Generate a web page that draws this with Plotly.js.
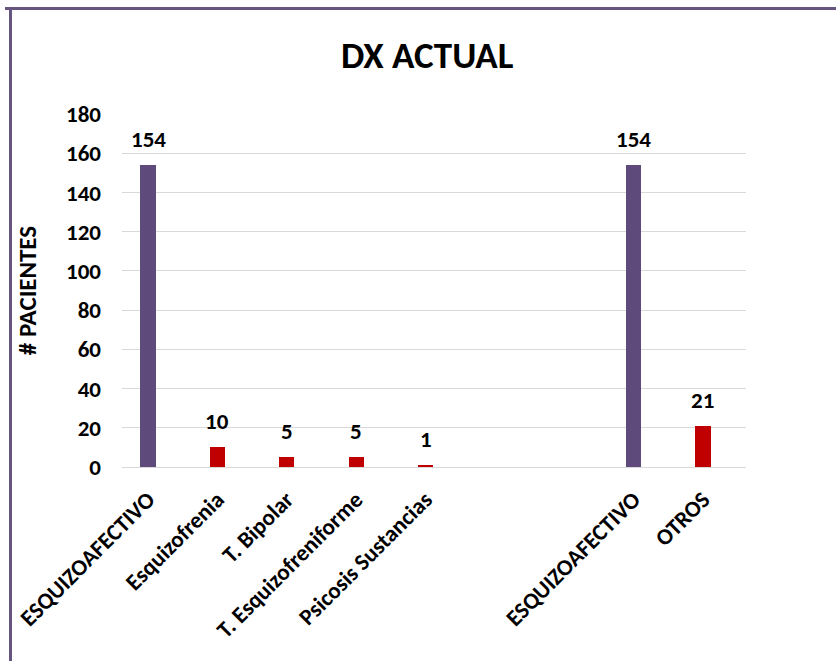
<!DOCTYPE html>
<html>
<head>
<meta charset="utf-8">
<script src="https://cdn.plot.ly/plotly-3.0.1.min.js"></script>
<style>
  html, body { margin: 0; padding: 0; background: #ffffff; }
  #chart { width: 836px; height: 661px; }
</style>
</head>
<body>
<div id="chart"></div>
<script>
// ---- data ----
const categories = ["ESQUIZOAFECTIVO", "Esquizofrenia", "T. Bipolar", "T. Esquizofreniforme",
                    "Psicosis Sustancias", "", "", "ESQUIZOAFECTIVO", "OTROS"];
const pacientes  = [154, 10, 5, 5, 1, null, null, 154, 21];
const grupo      = ["total", "detalle", "detalle", "detalle", "detalle", "", "", "total", "detalle"];
const chartTitle = "DX ACTUAL";
const yTitle     = "# PACIENTES";
const yTicks     = [0, 20, 40, 60, 80, 100, 120, 140, 160, 180];

// ---- styling ----
const FONT = "Carlito, Lato, 'Open Sans', sans-serif";
const colorFor = { total: "#5f4b7b", detalle: "#c00000" };
const positions = categories.map((_, i) => i);

const barColors = grupo.map(g => colorFor[g] || "rgba(0,0,0,0)");

const trace = {
  type: "bar",
  x: positions,
  y: pacientes,
  width: 0.22,
  marker: { color: barColors, line: { width: 0 } },
  hoverinfo: "x+y",
  showlegend: false
};

const annotations = positions
  .filter(i => pacientes[i] !== null)
  .map(i => ({
    x: positions[i], y: pacientes[i], xref: "x", yref: "y",
    text: "<b>" + pacientes[i] + "</b>", showarrow: false,
    yanchor: "bottom", yshift: 10,
    font: { family: FONT, size: 23, color: "#000000" }
  }));

// plot area: l=122, w=624, t=114, h=353
const px = v => (v - 122) / 624;
const py = v => (467 - v) / 353;
const BORDER = "#65557f";

const layout = {
  width: 836, height: 661,
  margin: { l: 122, r: 90, t: 114, b: 194 },
  paper_bgcolor: "#ffffff", plot_bgcolor: "#ffffff",
  font: { family: FONT, color: "#000000" },
  title: {
    text: "<b>" + chartTitle + "</b>",
    x: 0.511, xref: "container", xanchor: "center",
    y: 1 - 55 / 661, yref: "container", yanchor: "middle",
    font: { family: FONT, size: 37, color: "#000000" }
  },
  xaxis: {
    range: [-0.375, 8.62],
    tickmode: "array",
    tickvals: positions,
    ticktext: categories.map(c => c ? "<b>" + c + "</b>" : ""),
    tickangle: -45,
    tickfont: { family: FONT, size: 23, color: "#000000" },
    ticklabelstandoff: 9,
    showgrid: false, zeroline: false,
    showline: true, linecolor: "#d9d9d9", linewidth: 1,
    ticks: "", fixedrange: true
  },
  yaxis: {
    range: [0, 180],
    tickmode: "array",
    tickvals: yTicks,
    ticktext: yTicks.map(v => "<b>" + v + "</b>"),
    tickfont: { family: FONT, size: 23, color: "#000000" },
    ticklabelstandoff: 20,
    showgrid: true, gridcolor: "#d9d9d9", gridwidth: 1,
    zeroline: false, showline: false, ticks: "",
    automargin: false,
    title: {
      text: "<b>" + yTitle + "</b>",
      font: { family: FONT, size: 25, color: "#000000" },
      standoff: 22
    },
    fixedrange: true
  },
  annotations: annotations,
  shapes: [
    { type: "line", xref: "paper", yref: "paper",
      x0: px(5), x1: px(836), y0: py(8.5), y1: py(8.5),
      line: { color: BORDER, width: 3 } },
    { type: "line", xref: "paper", yref: "paper",
      x0: px(10.5), x1: px(10.5), y0: py(7), y1: py(661),
      line: { color: BORDER, width: 3 } }
  ],
  bargap: 0
};

Plotly.newPlot("chart", [trace], layout, { displayModeBar: false, staticPlot: true });
</script>
</body>
</html>
